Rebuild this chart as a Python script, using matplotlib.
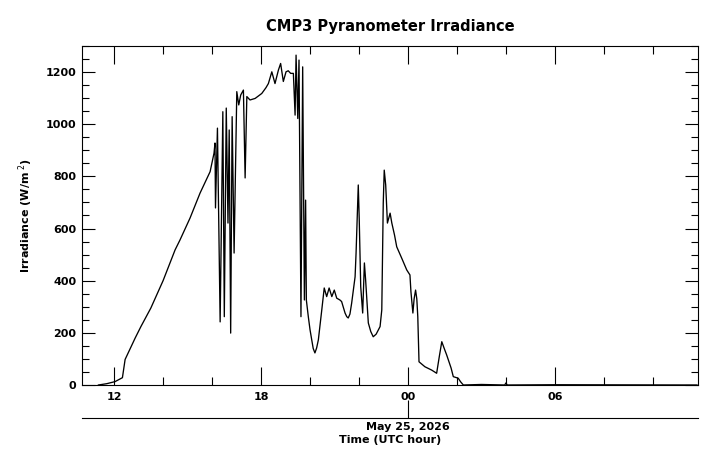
import numpy as np
import matplotlib
matplotlib.use("Agg")
import matplotlib.pyplot as plt
from matplotlib.ticker import MultipleLocator, FixedLocator

# hours since 00 UTC May 24 (values > 24 fall on May 25)
hours = [11.36, 11.70, 12.04, 12.34, 12.45, 12.86, 13.10, 13.50, 14.00, 14.49,
         14.69, 15.10, 15.51, 15.92, 16.08,
         16.12, 16.14, 16.22, 16.33, 16.44, 16.50, 16.58, 16.65, 16.70, 16.76,
         16.82, 16.90, 17.01, 17.09, 17.17, 17.28, 17.35, 17.42, 17.55, 17.76,
         18.03, 18.20, 18.30, 18.44, 18.57, 18.71, 18.80, 18.91, 19.02, 19.11, 19.21,
         19.32, 19.39, 19.43, 19.50, 19.55, 19.63, 19.70, 19.77, 19.82, 19.85,
         19.93, 20.00, 20.07, 20.13, 20.20, 20.27, 20.34, 20.48, 20.58, 20.68,
         20.78, 20.89, 20.99,
         21.09, 21.22, 21.29, 21.43, 21.50, 21.56, 21.63, 21.70, 21.84, 21.88,
         21.97, 22.01, 22.07, 22.15, 22.22, 22.27, 22.38, 22.48, 22.58, 22.70,
         22.86, 22.93, 22.99, 23.03, 23.09, 23.16, 23.27, 23.34, 23.45, 23.54,
         23.75, 23.95, 24.08, 24.12, 24.20, 24.25, 24.31, 24.36, 24.40, 24.45,
         24.69, 24.97, 25.17, 25.28, 25.38, 25.48, 25.58, 25.76, 25.85, 26.05,
         26.15, 26.26, 27.00, 27.95, 28.00, 28.05, 30.00, 35.80]
irradiance = [0, 5, 13, 28, 98, 180, 225, 295, 400, 518,
              556, 640, 736, 818, 889,
              928, 679, 985, 242, 1048, 262, 1062, 621, 978, 199,
              1029, 506, 1125, 1074, 1112, 1131, 794, 1106, 1093, 1099,
              1118, 1140, 1156, 1201, 1156, 1208, 1233, 1164, 1201, 1205, 1195,
              1195, 1035, 1265, 1022, 1246, 262, 1220, 326, 709, 326,
              262, 212, 173, 140, 123, 142, 173, 288, 372, 339,
              372, 339, 364,
              333, 326, 320, 276, 262, 257, 272, 314, 415, 506,
              767, 633, 377, 276, 468, 403, 238, 205, 185, 195,
              224, 288, 698, 824, 767, 621, 659, 621, 575, 530,
              485, 441, 422, 358, 276, 330, 364, 330, 262, 89,
              70, 57, 45, 110, 166, 140, 115, 65, 32, 26,
              12, 0, 2, 0, 8, 0, 1, 0]

tick_pos = [12, 18, 24, 30]
tick_labels = ["12", "18", "00", "06"]

fig = plt.figure(figsize=(7.2, 4.67), dpi=100)
ax = fig.add_axes([0.1139, 0.1756, 0.8555, 0.7259])

ax.plot(hours, irradiance, color="black", linewidth=0.95)

ax.set_xlim(10.69, 35.84)
ax.set_ylim(0, 1300)

ax.set_xticks(tick_pos)
ax.set_xticklabels(tick_labels)
ax.xaxis.set_minor_locator(MultipleLocator(2))
ax.yaxis.set_major_locator(MultipleLocator(200))
ax.yaxis.set_minor_locator(MultipleLocator(50))

ax.tick_params(axis="x", which="major", direction="in", length=13, width=0.8,
               top=True, bottom=True, labelsize=8, pad=5)
ax.tick_params(axis="x", which="minor", direction="in", length=6, width=0.8,
               top=True, bottom=True)
ax.tick_params(axis="y", which="major", direction="in", length=9.5, width=0.8,
               left=True, right=True, labelsize=8, pad=4)
ax.tick_params(axis="y", which="minor", direction="in", length=5, width=0.8,
               left=True, right=True)
for lab in ax.get_xticklabels() + ax.get_yticklabels():
    lab.set_fontweight("bold")
for sp in ax.spines.values():
    sp.set_linewidth(0.8)

ax.set_ylabel(r"Irradiance (W/m$^{\ 2}$)", fontsize=8, fontweight="bold", labelpad=8)
ax.set_title("CMP3 Pyranometer Irradiance", fontsize=10.5, fontweight="bold", pad=11)

# date axis below the hour axis
sec = ax.secondary_xaxis(-0.0973)
sec.set_xticks([24])
sec.set_xticklabels(["May 25, 2026"])
sec.tick_params(axis="x", direction="in", length=13, width=0.8, labelsize=8, pad=3)
sec.spines["bottom"].set_linewidth(0.8)
for lab in sec.get_xticklabels():
    lab.set_fontweight("bold")
sec.set_xlabel("Time (UTC hour)", fontsize=8, fontweight="bold", labelpad=2)

fig.savefig("out.png", dpi=100)
